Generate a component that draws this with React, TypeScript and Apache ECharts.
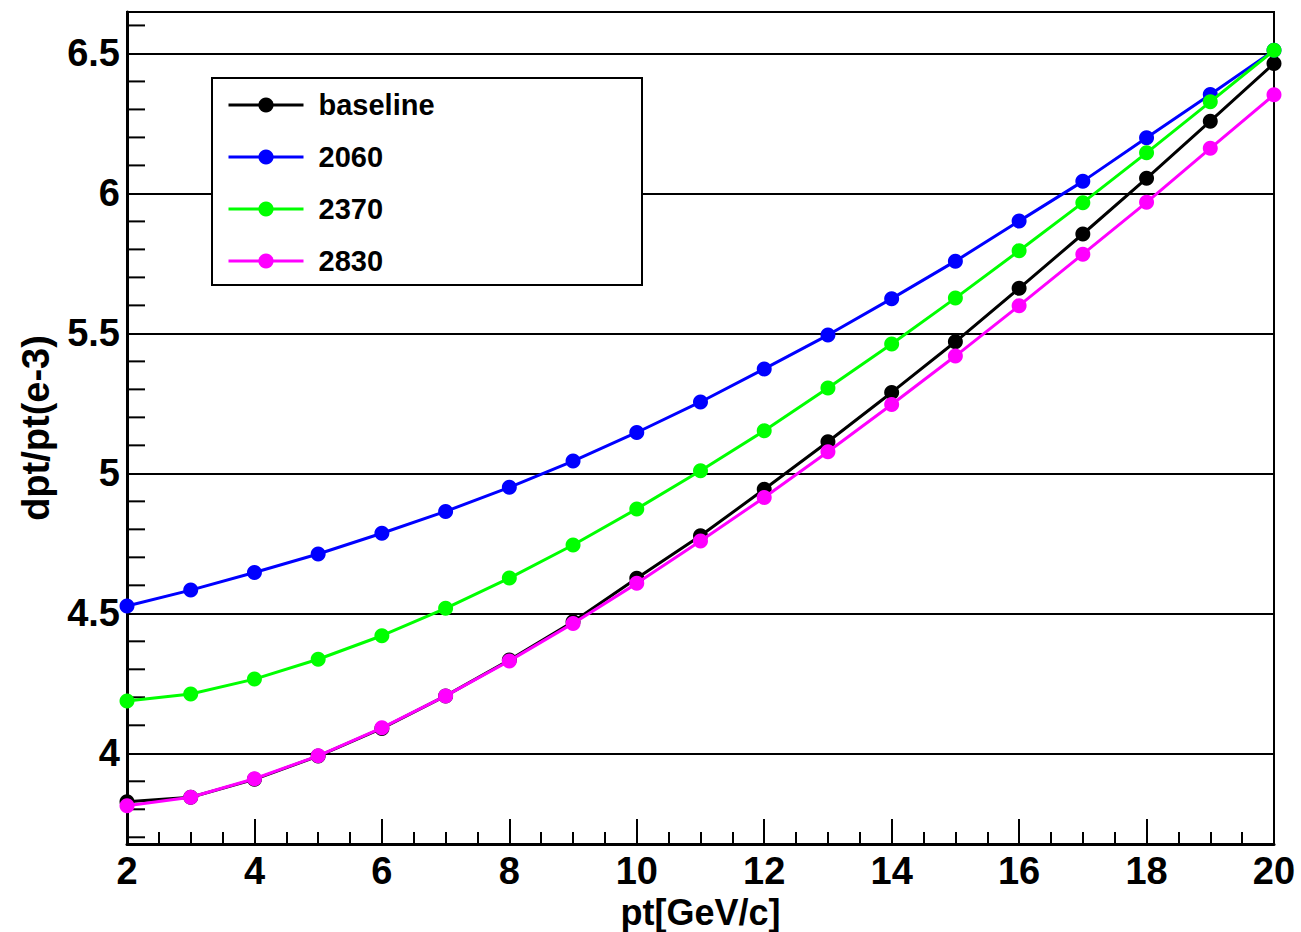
import React, { useEffect, useRef } from "react";
import * as echarts from "echarts";

const ptValues = [2, 3, 4, 5, 6, 7, 8, 9, 10, 11, 12, 13, 14, 15, 16, 17, 18, 19, 20];
const baseline = [3.827, 3.843, 3.907, 3.99, 4.089, 4.205, 4.333, 4.47, 4.625, 4.777, 4.943, 5.113, 5.289, 5.47, 5.661, 5.855, 6.054, 6.258, 6.464];
const s2060 = [4.526, 4.583, 4.646, 4.712, 4.786, 4.864, 4.95, 5.044, 5.146, 5.255, 5.373, 5.494, 5.624, 5.758, 5.901, 6.043, 6.199, 6.353, 6.511];
const s2370 = [4.187, 4.212, 4.265, 4.336, 4.42, 4.518, 4.626, 4.744, 4.873, 5.009, 5.152, 5.305, 5.462, 5.626, 5.795, 5.967, 6.145, 6.327, 6.511];
const s2830 = [3.813, 3.843, 3.909, 3.991, 4.091, 4.205, 4.33, 4.464, 4.607, 4.758, 4.914, 5.077, 5.246, 5.419, 5.599, 5.783, 5.968, 6.161, 6.352];

const seriesNames = ["baseline", "2060", "2370", "2830"];
const seriesColors = ["#000000", "#0000ff", "#00ff00", "#ff00ff"];
const seriesValues = [baseline, s2060, s2370, s2830];

const xMin = 2;
const xMax = 20;
const yMin = 3.676;
const yMax = 6.648;
// y minor tick positions (every 0.1)
const yMinorTicks = [3.7, 3.8, 3.9, 4.1, 4.2, 4.3, 4.4, 4.6, 4.7, 4.8, 4.9, 5.1, 5.2, 5.3, 5.4, 5.6, 5.7, 5.8, 5.9, 6.1, 6.2, 6.3, 6.4, 6.6];

const FONT = "'Liberation Sans', Arial, Helvetica, sans-serif";

export default function App() {
  const ref = useRef<HTMLDivElement>(null);
  useEffect(() => {
    if (!ref.current) return;
    const chart = echarts.init(ref.current, null, { renderer: "svg" });
    const lineSeries = seriesNames.map((name, i) => ({
      name,
      type: "line",
      data: ptValues.map((x, j) => [x, seriesValues[i][j]]),
      symbol: "circle",
      symbolSize: 15,
      showSymbol: true,
      lineStyle: { color: seriesColors[i], width: 3 },
      itemStyle: { color: seriesColors[i] },
      z: 2 + i * 0.01,
      clip: false,
    }));
    const option: any = {
      animation: false,
      backgroundColor: "#ffffff",
      textStyle: { fontFamily: FONT },
      grid: {
        left: 127,
        right: 27,
        top: 12,
        bottom: 88,
        containLabel: false,
        outerBoundsMode: "none",
        show: true,
        borderColor: "#000",
        borderWidth: 2,
        backgroundColor: "transparent",
      },
      legend: {
        orient: "vertical",
        left: 227,
        top: 90,
        padding: 0,
        data: seriesNames,
        itemWidth: 75,
        itemHeight: 19,
        itemGap: 22,
        selectedMode: false,
        z: 10,
        lineStyle: { width: 3 },
        textStyle: {
          fontFamily: FONT,
          fontWeight: "bold",
          fontSize: 29,
          lineHeight: 30,
          color: "#000",
          padding: [0, 0, 0, 10],
        },
      },
      graphic: [
        {
          type: "rect",
          z: 5,
          shape: { x: 212, y: 78, width: 430, height: 207 },
          style: { fill: "#fff", stroke: "#000", lineWidth: 2 },
        },
      ],
      xAxis: {
        type: "value",
        min: xMin,
        max: xMax,
        interval: 2,
        name: "pt[GeV/c]",
        nameLocation: "middle",
        nameGap: 43,
        nameTextStyle: { fontFamily: FONT, fontWeight: "bold", fontSize: 36, lineHeight: 36, color: "#000" },
        axisLine: { show: true, lineStyle: { color: "#000", width: 3 } },
        axisTick: { show: true, inside: true, length: 25, lineStyle: { color: "#000", width: 2 } },
        minorTick: { show: true, splitNumber: 4, length: 12, lineStyle: { color: "#000", width: 2 } },
        splitLine: { show: false },
        axisLabel: { fontFamily: FONT, fontWeight: "bold", fontSize: 38, color: "#000", margin: 8 },
      },
      yAxis: {
        type: "value",
        min: yMin,
        max: yMax,
        splitNumber: 6,
        name: "dpt/pt(e-3)",
        nameLocation: "middle",
        nameGap: 72,
        nameTextStyle: { fontFamily: FONT, fontWeight: "bold", fontSize: 38, color: "#000" },
        axisLine: { show: true, lineStyle: { color: "#000", width: 3 } },
        axisTick: { show: false },
        minorTick: { show: false },
        splitLine: { show: true, lineStyle: { color: "#000", width: 2 } },
        axisLabel: {
          fontFamily: FONT,
          fontWeight: "bold",
          fontSize: 38,
          color: "#000",
          margin: 7,
          showMinLabel: false,
          showMaxLabel: false,
        },
      },
      series: [
        ...lineSeries,
        {
          type: "custom",
          name: "yMinorTicks",
          silent: true,
          z: 1,
          data: yMinorTicks.map((v) => [xMin, v]),
          renderItem: (_params: any, api: any) => {
            const p = api.coord([api.value(0), api.value(1)]);
            return {
              type: "line",
              shape: { x1: p[0], y1: p[1], x2: p[0] + 18, y2: p[1] },
              style: { stroke: "#000", lineWidth: 2 },
            };
          },
        },
      ],
    };
    chart.setOption(option);
    return () => chart.dispose();
  }, []);
  return (
    <div
      ref={ref}
      style={{ position: "fixed", left: 0, top: 0, width: 1301, height: 932, background: "#fff" }}
    />
  );
}
